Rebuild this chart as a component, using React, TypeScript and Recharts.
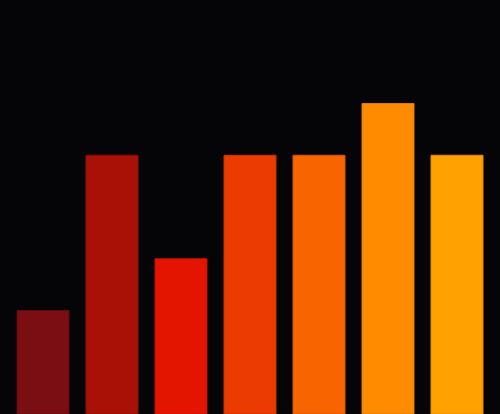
import { Bar, BarChart, Cell, XAxis, YAxis } from "recharts";

const categories = ["A", "B", "C", "D", "E", "F", "G"];
const values = [2, 5, 3, 5, 5, 6, 5];
const colors = ["#7a0e12", "#aa1106", "#e31400", "#ec3b00", "#f86500", "#ff8c00", "#ffa100"];
const strokes = ["#5e0a0d", "#8c0d04", "#c21100", "#cc3200", "#d85600", "#e07a00", "#e08d00"];

const data = categories.map((name, i) => ({ name, value: values[i] }));

export default function App() {
  return (
    <div style={{ position: "fixed", left: 0, top: 0, width: 500, height: 414, background: "#050407" }}>
      <BarChart
        width={500}
        height={414}
        data={data}
        margin={{ top: 0, right: 0, bottom: 0, left: 0 }}
        barCategoryGap={8.5}
      >
        <XAxis dataKey="name" hide padding={{ left: 8.5, right: 8.5 }} />
        <YAxis hide domain={[0, 8]} />
        <Bar dataKey="value" isAnimationActive={false} strokeWidth={1}>
          {data.map((d, i) => (
            <Cell key={d.name} fill={colors[i]} stroke={strokes[i]} />
          ))}
        </Bar>
      </BarChart>
    </div>
  );
}
